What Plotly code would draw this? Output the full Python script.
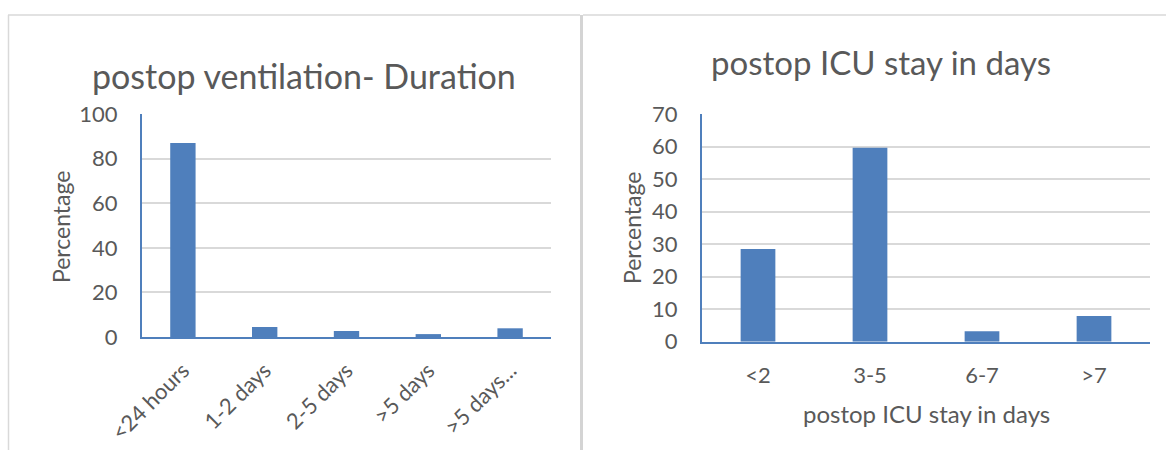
import plotly.graph_objects as go

W, H = 1166, 450

vent_categories = ["<24 hours", "1-2 days", "2-5 days", ">5 days", ">5 days..."]
vent_values = [87, 4.5, 2.7, 1.3, 3.9]

icu_categories = ["<2", "3-5", "6-7", ">7"]
icu_values = [28.5, 59.6, 3.2, 7.9]

left_title = "postop ventilation- Duration"
right_title = "postop ICU stay in days"
y_title = "Percentage"
right_x_title = "postop ICU stay in days"

BAR = "#4f7fbc"
GRID = "#d9d9d9"
TXT = "#595959"
FONT = "Lato, 'Open Sans', sans-serif"


def px_x(x):
    return x / W


def px_y(y):
    return 1 - y / H


fig = go.Figure()
fig.add_trace(go.Bar(x=vent_categories, y=vent_values, marker_color=BAR,
                     marker_line_width=0, xaxis="x", yaxis="y"))
fig.add_trace(go.Bar(x=icu_categories, y=icu_values, marker_color=BAR,
                     marker_line_width=0, xaxis="x2", yaxis="y2"))

axis_common = dict(showline=True, linecolor=BAR, linewidth=2, zeroline=False,
                   automargin=False,
                   tickfont=dict(family=FONT, size=22, color=TXT), fixedrange=True)

fig.update_layout(
    width=W, height=H, margin=dict(l=0, r=0, t=0, b=0, autoexpand=False),
    paper_bgcolor="white", plot_bgcolor="white", showlegend=False,
    bargap=0.69,
    font=dict(family=FONT, color=TXT),
    xaxis=dict(domain=[px_x(142), px_x(551)], anchor="y", tickangle=-45,
               showgrid=False, ticks="", ticklabelstandoff=10, **axis_common),
    yaxis=dict(domain=[px_y(337), px_y(114)], anchor="x", range=[0, 100],
               tickvals=[0, 20, 40, 60, 80, 100], showgrid=True, gridcolor=GRID,
               gridwidth=1.5, ticklabelstandoff=18, **axis_common),
    xaxis2=dict(domain=[px_x(702), px_x(1150)], anchor="y2", showgrid=False,
                ticks="", ticklabelstandoff=13, **axis_common),
    yaxis2=dict(domain=[px_y(341.7), px_y(114)], anchor="x2", range=[0, 70],
                tickvals=[0, 10, 20, 30, 40, 50, 60, 70], showgrid=True,
                gridcolor=GRID, gridwidth=1.5, ticklabelstandoff=18, **axis_common),
)

annotations = [
    dict(text=left_title, x=px_x(304), y=px_y(76), font=dict(size=34)),
    dict(text=right_title, x=px_x(881), y=px_y(62), font=dict(size=33)),
    dict(text=y_title, x=px_x(61), y=px_y(227), textangle=-90, font=dict(size=23)),
    dict(text=y_title, x=px_x(632), y=px_y(228), textangle=-90, font=dict(size=23)),
    dict(text=right_x_title, x=px_x(926), y=px_y(413), font=dict(size=24)),
]
for a in annotations:
    a.update(xref="paper", yref="paper", showarrow=False, xanchor="center",
             yanchor="middle")
    a["font"].update(family=FONT, color=TXT)
fig.update_layout(annotations=annotations)

# chart frames
shapes = [
    dict(type="line", x0=px_x(8), x1=px_x(580), y0=px_y(15), y1=px_y(15),
         line=dict(color="#d9d9d9", width=1.5)),
    dict(type="line", x0=px_x(8.5), x1=px_x(8.5), y0=px_y(15), y1=px_y(450),
         line=dict(color="#d9d9d9", width=1.5)),
    dict(type="line", x0=px_x(581.5), x1=px_x(581.5), y0=px_y(15), y1=px_y(450),
         line=dict(color="#d4d4d4", width=3)),
    dict(type="line", x0=px_x(583), x1=px_x(1166), y0=px_y(15), y1=px_y(15),
         line=dict(color="#d9d9d9", width=1.5)),
]
for s in shapes:
    s.update(xref="paper", yref="paper")
fig.update_layout(shapes=shapes)

fig.write_html("out.html", config={"displayModeBar": False},
               post_script="document.body.style.margin='0';"
               "document.body.style.overflow='hidden';")
